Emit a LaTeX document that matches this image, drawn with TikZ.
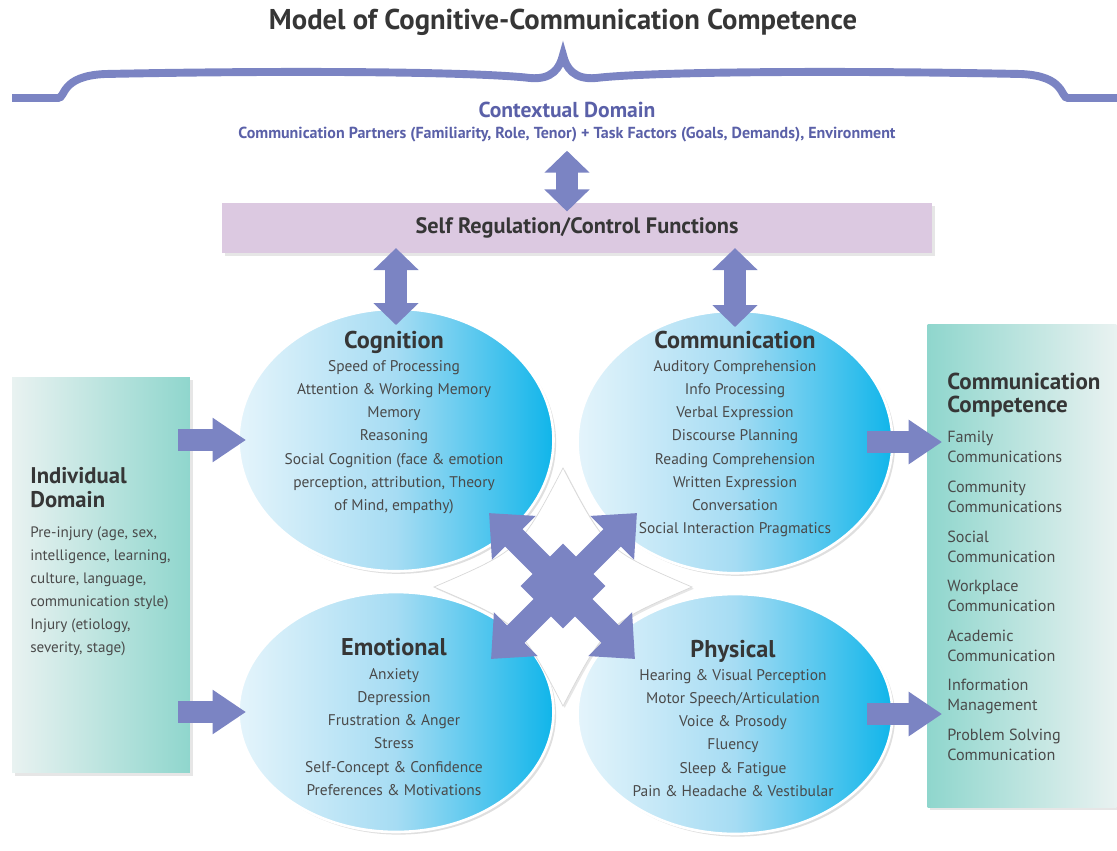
\documentclass[tikz,border=0pt]{standalone}
\usepackage{fontspec}
\setmainfont{PT Sans}
\usetikzlibrary{arrows.meta,shapes.geometric,shadows}
\definecolor{arrowc}{HTML}{7B84C3}
\definecolor{ctxc}{HTML}{5A60A8}
\definecolor{lav}{HTML}{DCC9E1}
\definecolor{teal}{HTML}{8FD6CD}
\definecolor{tealpale}{HTML}{E9F2F1}
\definecolor{cyanL}{HTML}{E4F4FB}
\definecolor{cyanM}{HTML}{A6DCF3}
\definecolor{cyanR}{HTML}{10B5EA}
\definecolor{txtc}{HTML}{4A4A4A}
\definecolor{headc}{HTML}{363636}

\begin{document}
\begin{tikzpicture}
  [x=0.02cm,y=-0.02cm,every node/.style={inner sep=0pt,text=txtc},
   bubble/.style={ellipse, draw=white, line width=1.5pt, left color=cyanL, right color=cyanR, middle color=cyanM,
     minimum width=6.3cm, drop shadow={opacity=.25,shadow xshift=1.5pt,shadow yshift=-1.5pt}},
   sidebox/.style={rectangle, drop shadow={opacity=.2,shadow xshift=1.5pt,shadow yshift=-1.5pt}},
   head/.style={font=\bfseries\fontsize{13.8}{15}\selectfont, text=headc, anchor=base},
   items/.style={align=center, font=\fontsize{8.8}{13.2}\selectfont, anchor=north},
   fat/.style={draw=arrowc, line width=12.5pt, -{Triangle[width=24pt,length=19pt]}},
   dbl/.style={draw=arrowc, line width=12pt, {Triangle[width=25pt,length=12.5pt]}-{Triangle[width=25pt,length=12.5pt]}},
   cross/.style={draw=arrowc, line width=14pt, {Triangle[width=34pt,length=20pt]}-{Triangle[width=34pt,length=20pt]}}]
  \useasboundingbox (0,0) rectangle (1117,850);

  % title and brace
  \node[font=\bfseries\fontsize{16.3}{18}\selectfont, text=headc] (title) at (563,22) {Model of Cognitive-Communication Competence};
  \draw[arrowc, line width=4.5pt] (12,98) -- (58,98) .. controls (66,98) and (60,76) .. (105,74)
    .. controls (300,70) and (480,72) .. (530,78) .. controls (552,80) and (560,68) .. (563,55)
    .. controls (566,68) and (574,80) .. (596,78) .. controls (646,72) and (826,70) .. (1021,74)
    .. controls (1066,76) and (1060,98) .. (1068,98) -- (1117,98);

  % contextual domain
  \node[font=\bfseries\fontsize{12.3}{14}\selectfont, text=ctxc] (ctx) at (567,110) {Contextual Domain};
  \node[font=\bfseries\fontsize{9.1}{10}\selectfont, text=ctxc] (ctxsub) at (567,135)
    {Communication Partners (Familiarity, Role, Tenor) + Task Factors (Goals, Demands), Environment};
  \node[sidebox, fill=lav, minimum width=14.2cm, minimum height=1cm, font=\bfseries\fontsize{12.7}{14}\selectfont, text=headc] (selfreg) at (577,228)
    {Self Regulation/Control Functions};

  % side boxes
  \node[sidebox, left color=tealpale, right color=teal, minimum width=3.56cm, minimum height=7.92cm] (indiv) at (101,575) {};
  \node[sidebox, left color=teal, right color=tealpale, minimum width=3.78cm, minimum height=9.66cm] (compet) at (1022,566) {};

  % circles
  \node[bubble, minimum height=5.25cm] (cog) at (396,440) {};
  \node[bubble, minimum height=5.25cm] (com) at (735,442) {};
  \node[bubble, minimum height=4.8cm] (emo) at (396,712) {};
  \node[bubble, minimum height=4.8cm] (phy) at (735,714) {};

  % cross in the middle
  \filldraw[white, draw=black!15, drop shadow={opacity=.2,shadow xshift=1pt,shadow yshift=-1pt}]
    (563,468) .. controls (606,550) .. (692,587) .. controls (606,624) .. (563,706)
    .. controls (520,624) .. (434,587) .. controls (520,550) .. cycle;
  \coordinate (xnw) at (489,513);
  \coordinate (xne) at (637,513);
  \coordinate (xsw) at (491,659);
  \coordinate (xse) at (635,659);
  \foreach \from/\to in {xnw/xse,xne/xsw}
    \draw[cross] (\from) -- (\to);
  \node[diamond, fill=arrowc, minimum width=1.7cm, minimum height=1.7cm] (xc) at (563,586) {};

  % texts in circles
  \node[head] (cogh) at (394,348) {Cognition};
  \node[items] (cogt) at (394,360) {Speed of Processing\\Attention \& Working Memory\\Memory\\Reasoning\\
    Social Cognition (face \& emotion\\perception, attribution, Theory\\of Mind, empathy)};
  \node[head] (comh) at (735,348) {Communication};
  \node[items] (comt) at (735,360) {Auditory Comprehension\\Info Processing\\Verbal Expression\\Discourse Planning\\
    Reading Comprehension\\Written Expression\\Conversation\\Social Interaction Pragmatics};
  \node[head] (emoh) at (394,655) {Emotional};
  \node[items] (emot) at (394,668) {Anxiety\\Depression\\Frustration \& Anger\\Stress\\Self-Concept \& Confidence\\Preferences \& Motivations};
  \node[head] (phyh) at (733,657) {Physical};
  \node[items] (phyt) at (733,669) {Hearing \& Visual Perception\\Motor Speech/Articulation\\Voice \& Prosody\\Fluency\\
    Sleep \& Fatigue\\Pain \& Headache \& Vestibular};

  % texts in side boxes
  \node[align=left, anchor=north west, font=\bfseries\fontsize{12.9}{13.7}\selectfont, text=headc] (indivh) at (30,467) {Individual\\Domain};
  \node[align=left, anchor=north west, font=\fontsize{8.6}{13.1}\selectfont] (indivt) at (30,526)
    {Pre-injury (age, sex,\\intelligence, learning,\\culture, language,\\communication style)\\Injury (etiology,\\severity, stage)};
  \node[align=left, anchor=north west, font=\bfseries\fontsize{13.1}{12.8}\selectfont, text=headc] (competh) at (947,373) {Communication\\Competence};
  \foreach \t [count=\i] in {{Family\\Communications},{Community\\Communications},{Social\\Communication},
      {Workplace\\Communication},{Academic\\Communication},{Information\\Management},{Problem Solving\\Communication}}
    \node[align=left, anchor=north west, font=\fontsize{9.2}{11.4}\selectfont] (cc\i) at (947,{431+49.6*(\i-1)}) {\t};

  % arrows
  \draw[dbl, shorten <=4.5pt, shorten >=-5pt] (ctxsub.south) -- (ctxsub.south |- selfreg.north);
  \foreach \c in {cog,com}
    \draw[dbl, shorten <=-3pt, shorten >=-10pt] (selfreg.south -| \c.north) -- (\c.north);
  \foreach \c in {cog,emo}
    \draw[fat, shorten <=-7pt, shorten >=-5pt] (indiv.east |- \c.west) -- (\c.west);
  \foreach \c in {com,phy}
    \draw[fat, shorten <=-15pt, shorten >=-8.5pt] (\c.east) -- (compet.west |- \c.east);
\end{tikzpicture}
\end{document}
